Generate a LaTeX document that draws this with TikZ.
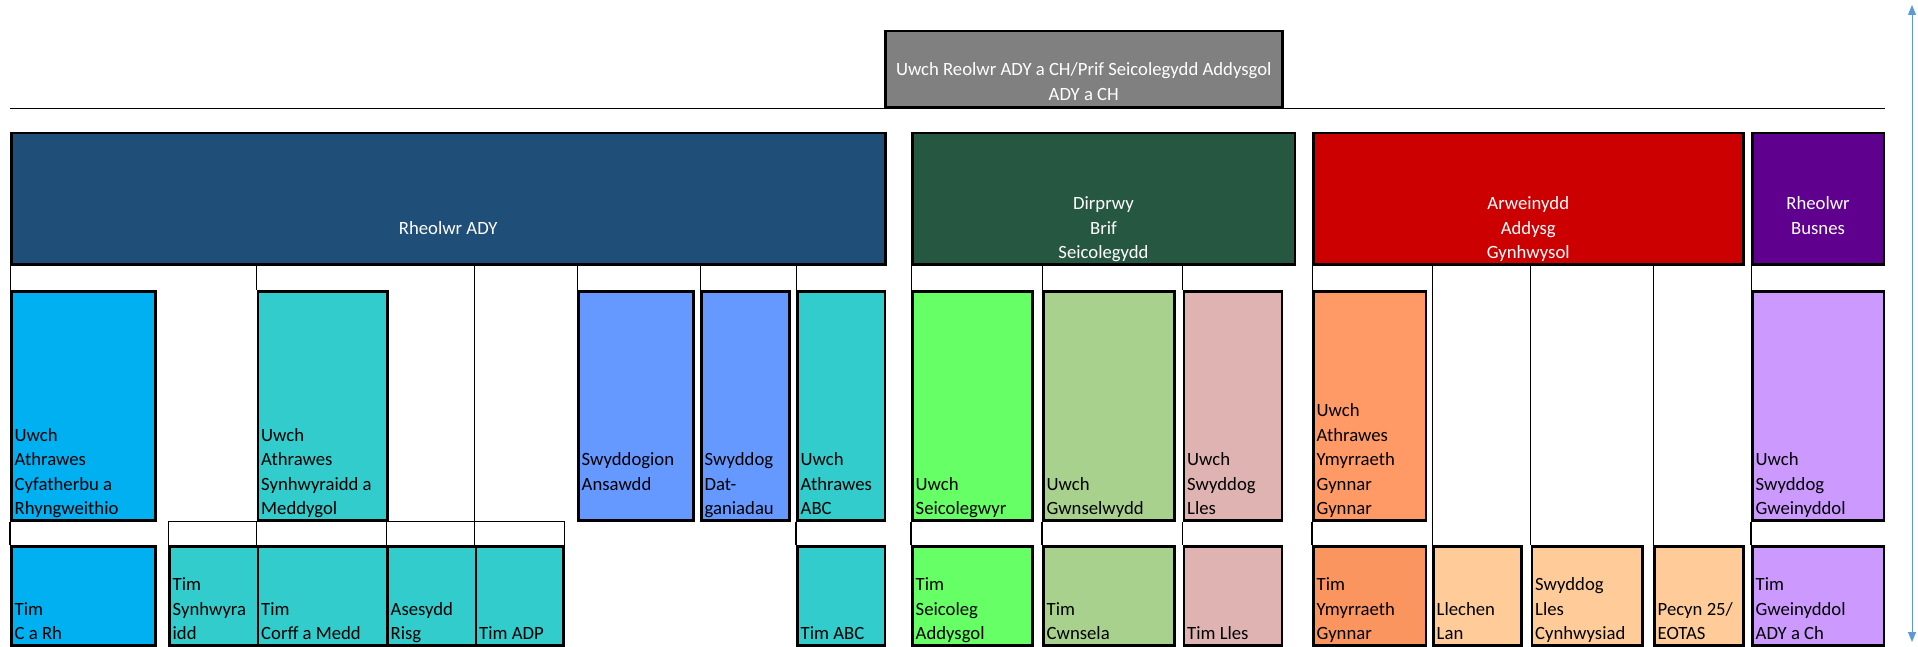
\documentclass[tikz,border=0pt]{standalone}
\usepackage{fontspec}
\setmainfont{Carlito}
\usetikzlibrary{arrows.meta}

\definecolor{greyhead}{HTML}{808080}
\definecolor{adyblue}{HTML}{1F4E79}
\definecolor{psygreen}{HTML}{265741}
\definecolor{incred}{HTML}{CC0000}
\definecolor{busviolet}{HTML}{5F008F}
\definecolor{cyan1}{HTML}{00B0F0}
\definecolor{teal1}{HTML}{33CCCC}
\definecolor{qblue}{HTML}{6699FF}
\definecolor{lime1}{HTML}{66FF66}
\definecolor{sage1}{HTML}{A9D18E}
\definecolor{rose1}{HTML}{E0B3B3}
\definecolor{orange1}{HTML}{FF9966}
\definecolor{orange2}{HTML}{FA9560}
\definecolor{peach1}{HTML}{FFCC99}
\definecolor{lilac1}{HTML}{CC99FF}
\definecolor{scaleblue}{HTML}{5B9BD5}

\begin{document}
\begin{tikzpicture}[x=1pt,y=-1pt,
  unit/.style={draw=black,line width=2.5pt,anchor=north west,inner sep=0pt},
  head/.style={unit,minimum height=131pt},
  row1/.style={unit,minimum height=229pt},
  row2/.style={unit,minimum height=99pt},
  lbl/.style={anchor=south west,align=left,draw=none,fill=none,text=black,
    inner xsep=4.5pt,inner ysep=2pt,text depth=4.5pt,
    font=\fontsize{18.7}{24.5}\selectfont},
  toplbl/.style={lbl,anchor=south,align=center,text=white},
  link/.style={line width=1pt}]
  \useasboundingbox (0,0) rectangle (1918,647);

  % top
  \node[unit,fill=greyhead,minimum width=397pt,minimum height=76pt,
    label={[toplbl,inner ysep=3.5pt]south:Uwch Reolwr ADY a CH/Prif Seicolegydd Addysgol\\ADY a CH}] (uwch) at (884,30) {};

  % heads of service
  \node[head,fill=adyblue,minimum width=874pt,label={[toplbl]south:Rheolwr ADY\\\mbox{}}] (rady) at (10,132) {};
  \node[head,fill=psygreen,minimum width=382.5pt,label={[toplbl]south:Dirprwy\\Brif\\Seicolegydd}] (dirp) at (911,132) {};
  \node[head,fill=incred,minimum width=430pt,label={[toplbl]south:Arweinydd\\Addysg\\Gynhwysol}] (arwe) at (1312,132) {};
  \node[head,fill=busviolet,minimum width=131.5pt,label={[toplbl]south:Rheolwr\\Busnes\\\mbox{}}] (busn) at (1751,132) {};

  % senior officers
  \node[row1,fill=cyan1,minimum width=144pt,label={[lbl]south west:Uwch\\Athrawes\\Cyfatherbu a\\Rhyngweithio}] (athcyf) at (10,290) {};
  \node[row1,fill=teal1,minimum width=129.5pt,label={[lbl]south west:Uwch\\Athrawes\\Synhwyraidd a\\Meddygol}] (athsyn) at (256.5,290) {};
  \node[row1,fill=qblue,minimum width=115pt,label={[lbl]south west:Swyddogion\\Ansawdd\\\mbox{}}] (swyans) at (577,290) {};
  \node[row1,fill=qblue,minimum width=88pt,label={[lbl]south west:Swyddog\\Dat-\\ganiadau}] (swydat) at (700,290) {};
  \node[row1,fill=teal1,minimum width=87.6pt,label={[lbl]south west:Uwch\\Athrawes\\ABC}] (athabc) at (796,290) {};
  \node[row1,fill=lime1,minimum width=120pt,label={[lbl]south west:Uwch\\Seicolegwyr}] (uwseic) at (911,290) {};
  \node[row1,fill=sage1,minimum width=131pt,label={[lbl]south west:Uwch\\Gwnselwydd}] (uwgwns) at (1042,290) {};
  \node[row1,fill=rose1,minimum width=98pt,label={[lbl]south west:Uwch\\Swyddog\\Lles}] (uwlles) at (1182.5,290) {};
  \node[row1,fill=orange1,minimum width=112.7pt,label={[lbl]south west:Uwch\\Athrawes\\Ymyrraeth\\Gynnar\\Gynnar}] (athymy) at (1312,290) {};
  \node[row1,fill=lilac1,minimum width=131.5pt,label={[lbl]south west:Uwch\\Swyddog\\Gweinyddol}] (uwgwei) at (1751,290) {};

  % teams
  \node[row2,fill=cyan1,minimum width=144pt,label={[lbl]south west:Tim\\C a Rh}] (timcrh) at (10,545) {};
  \node[row2,fill=teal1,minimum width=88.5pt,label={[lbl]south west:Tim\\Synhwyra\\idd}] (timsyn) at (168,545) {};
  \node[row2,fill=teal1,minimum width=129.5pt,label={[lbl]south west:Tim\\Corff a Medd}] (timcor) at (256.5,545) {};
  \node[row2,fill=teal1,minimum width=88.5pt,label={[lbl]south west:Asesydd\\Risg}] (asrisg) at (386,545) {};
  \node[row2,fill=teal1,minimum width=87.5pt,label={[lbl]south west:Tim ADP}] (timadp) at (474.5,545) {};
  \node[row2,fill=teal1,minimum width=87.6pt,label={[lbl]south west:Tim ABC}] (timabc) at (796,545) {};
  \node[row2,fill=lime1,minimum width=120pt,label={[lbl]south west:Tim\\Seicoleg\\Addysgol}] (timseic) at (911,545) {};
  \node[row2,fill=sage1,minimum width=131pt,label={[lbl]south west:Tim\\Cwnsela}] (timcwn) at (1042,545) {};
  \node[row2,fill=rose1,minimum width=98pt,label={[lbl]south west:Tim Lles}] (timlles) at (1182.5,545) {};
  \node[row2,fill=orange2,minimum width=112.7pt,label={[lbl]south west:Tim\\Ymyrraeth\\Gynnar}] (timymy) at (1312,545) {};
  \node[row2,fill=peach1,minimum width=88pt,label={[lbl]south west:Llechen\\Lan}] (llech) at (1432,545) {};
  \node[row2,fill=peach1,minimum width=110.5pt,label={[lbl]south west:Swyddog\\Lles\\Cynhwysiad}] (swylles) at (1530.5,545) {};
  \node[row2,fill=peach1,minimum width=89pt,label={[lbl]south west:Pecyn 25/\\EOTAS}] (pecyn) at (1653,545) {};
  \node[row2,fill=lilac1,minimum width=131.5pt,label={[lbl]south west:Tim\\Gweinyddol\\ADY a Ch}] (timgwei) at (1751,545) {};

  % connectors
  \draw[link] (uwch.south -| rady.west) -- (uwch.south -| busn.east);
  \foreach \n in {athcyf,athsyn,swyans,swydat,athabc}
    \draw[link] (rady.south -| \n.west) -- (\n.north west);
  \draw[link] (rady.south -| timadp.west) -- (athsyn.south -| timadp.west);
  \draw[link] (athsyn.south -| timsyn.west) -- (athsyn.south -| timadp.east) -- (timadp.north east);
  \foreach \n in {timsyn,timcor,asrisg,timadp}
    \draw[link] (athsyn.south -| \n.west) -- (\n.north west);
  \foreach \a/\b in {athcyf/timcrh,athabc/timabc,uwseic/timseic,uwgwns/timcwn,uwlles/timlles,athymy/timymy,uwgwei/timgwei}
    \draw[link,line width=1.6pt] (\a.south west) -- (\b.north west);
  \foreach \n in {uwseic,uwgwns,uwlles}
    \draw[link] (dirp.south -| \n.west) -- (\n.north west);
  \foreach \n in {athymy,llech,swylles,pecyn}
    \draw[link] (arwe.south -| \n.west) -- (\n.north west);
  \draw[link] (busn.south west) -- (uwgwei.north west);

  % scale arrow
  \coordinate (scaletop) at (1912,5);
  \coordinate (scalebot) at (1912,642);
  \draw[line width=1pt,scaleblue,{Triangle[length=10pt,width=8pt]}-{Triangle[length=10pt,width=8pt]}] (scaletop) -- (scalebot);
\end{tikzpicture}
\end{document}
